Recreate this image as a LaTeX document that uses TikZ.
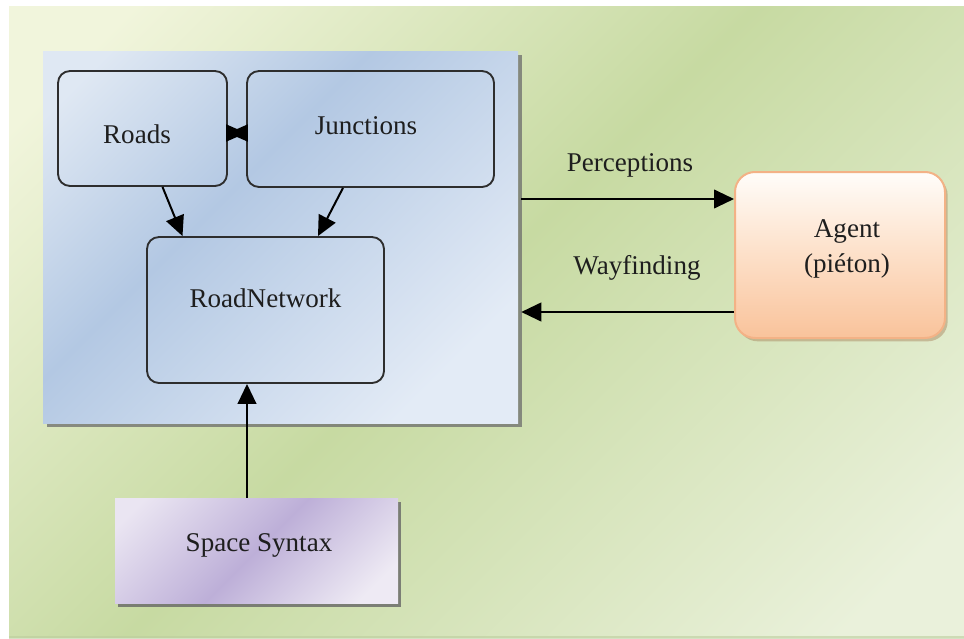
\documentclass[tikz,border=0pt]{standalone}
\usepackage{fontspec}
\setmainfont{Liberation Serif}
\newfontfamily\diagfont{Liberation Serif}
\usetikzlibrary{arrows.meta,calc,shadows}

\definecolor{bgA}{HTML}{F1F5DC}
\definecolor{bgB}{HTML}{C7DAA2}
\definecolor{bgC}{HTML}{EAF1DB}
\definecolor{blueA}{HTML}{DFE8F3}
\definecolor{blueB}{HTML}{B3C8E3}
\definecolor{blueC}{HTML}{E3EBF6}
\definecolor{purA}{HTML}{EAE5F2}
\definecolor{purB}{HTML}{BDAFD8}
\definecolor{purC}{HTML}{EEEAF4}
\definecolor{agA}{HTML}{FFFDFA}
\definecolor{agB}{HTML}{FDE2CC}
\definecolor{agC}{HTML}{F9C39B}
\definecolor{agEdge}{HTML}{F3B286}
\definecolor{ink}{HTML}{1E1E1E}
\definecolor{frame}{HTML}{2E2E2E}

% diagonal shadings: light corner, darker band, light corner
\pgfdeclareverticalshading{bgshade}{100bp}{color(0bp)=(bgC); color(20bp)=(bgC); color(52bp)=(bgB); color(80bp)=(bgA); color(100bp)=(bgA)}
\pgfdeclareverticalshading{blueshade}{100bp}{color(0bp)=(blueC); color(25bp)=(blueC); color(58bp)=(blueB); color(80bp)=(blueA); color(100bp)=(blueA)}
\pgfdeclareverticalshading{purshade}{100bp}{color(0bp)=(purC); color(22bp)=(purC); color(50bp)=(purB); color(80bp)=(purA); color(100bp)=(purA)}
\pgfdeclareverticalshading{agentshade}{100bp}{color(0bp)=(agC); color(25bp)=(agC); color(52bp)=(agB); color(75bp)=(agA); color(100bp)=(agA)}

\begin{document}
\begin{tikzpicture}[x=0.75pt,y=-0.75pt,
  txt/.style={font=\diagfont\fontsize{20.3}{26}\selectfont, text=ink, inner sep=0pt, align=center},
  classbox/.style={draw=frame, line width=1.4pt, rounded corners=9pt, inner sep=0pt},
  link/.style={draw=black, line width=1.5pt, -{Triangle[length=15pt,width=14pt]}},
  halfbow/.style={draw=black, line width=1.4pt, -{Triangle[length=15pt,width=12.75pt]}},
  panel/.style={shade, shading=blueshade, shading angle=45, inner sep=0pt,
    drop shadow={shadow xshift=3pt, shadow yshift=-3pt, fill=gray!85!black, opacity=.75}},
  source/.style={shade, shading=purshade, shading angle=45, inner sep=0pt,
    drop shadow={shadow xshift=2.5pt, shadow yshift=-3pt, fill=gray!80!black, opacity=.8}},
  actor/.style={shade, shading=agentshade, draw=agEdge, line width=1.5pt,
    rounded corners=15pt, inner sep=0pt,
    drop shadow={shadow xshift=2pt, shadow yshift=-2.5pt, fill=brown!60!gray, opacity=.45}}]

\useasboundingbox (0,0) rectangle (964,639);
\fill[white] (0,0) rectangle (964,639);

% page background
\shade[shading=bgshade, shading angle=45] (9,6) rectangle (964,637);
\fill[bgB!85!gray, opacity=.6] (9,636) rectangle (964,639);

% road network container
\node[panel, minimum width=356.25pt, minimum height=279pt] (big) at (280.5,237) {};

% classes inside the container
\node[classbox, minimum width=126.75pt, minimum height=86.25pt] (roads) at (142.5,128.5) {};
\node[classbox, minimum width=185.25pt, minimum height=87pt] (junctions) at (370.5,129) {};
\node[classbox, minimum width=177.75pt, minimum height=109.5pt] (roadnet) at (265.5,310) {};

\node[txt] (roadsT) at (137,134) {Roads};
\node[txt] (junctionsT) at (366,126) {Junctions};
\node[txt] (roadnetT) at (265.5,298) {RoadNetwork};

% external elements
\node[actor, minimum width=157.5pt, minimum height=124.5pt] (agent) at (840,255) {};
\node[txt] (agentT) at (847,249) {Agent\\(piéton)};

\node[source, minimum width=212.25pt, minimum height=78.75pt] (space) at (256.5,550.5) {};
\node[txt] (spaceT) at (259,545) {Space Syntax};

% two-way link between roads and junctions (overlapping heads)
\draw[halfbow] ($(junctions.west)+(0,4)$) -- ($(roads.east)+(0,4.5)$);
\draw[halfbow] ($(roads.east)+(0,4.5)$) -- ($(junctions.west)+(0,4)$);

% connectors
\draw[link] ($(roads.south)+(20,0)$) -- ($(roadnet.north)+(-83,0)$);
\draw[link] ($(junctions.south)+(-27.5,0)$) -- ($(roadnet.north)+(52.5,0)$);
\draw[link] ($(space.north)+(-9.5,0)$) -- ($(roadnet.south)+(-18.5,0)$);

\draw[link] ($(big.east)+(3,-38)$) -- ($(agent.west)+(0,-56)$);
\draw[link] ($(agent.west)+(0,57)$) -- ($(big.east)+(3,75)$);

\node[txt] (percT) at (630,165) {Perceptions};
\node[txt] (wayT) at (637,268) {Wayfinding};
\end{tikzpicture}
\end{document}
